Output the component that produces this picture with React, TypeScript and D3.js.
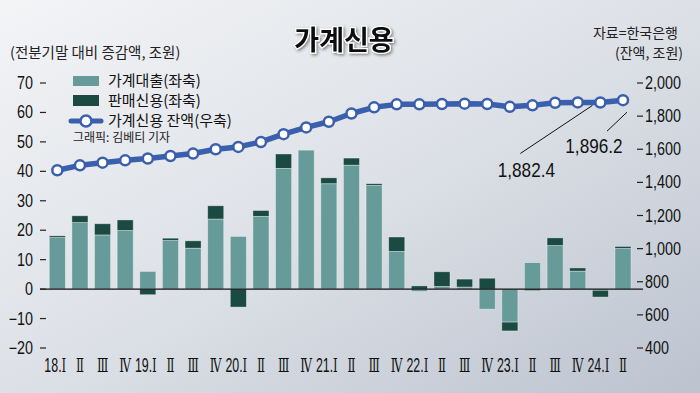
import React, { useEffect, useRef } from "react";
import * as d3 from "d3";

// quarters 2018.Q1 ~ 2024.Q2
const years = ["18.", "", "", "", "19.", "", "", "", "20.", "", "", "", "21.", "", "", "", "22.", "", "", "", "23.", "", "", "", "24.", ""];
const romans = ["Ⅰ", "Ⅱ", "Ⅲ", "Ⅳ", "Ⅰ", "Ⅱ", "Ⅲ", "Ⅳ", "Ⅰ", "Ⅱ", "Ⅲ", "Ⅳ", "Ⅰ", "Ⅱ", "Ⅲ", "Ⅳ", "Ⅰ", "Ⅱ", "Ⅲ", "Ⅳ", "Ⅰ", "Ⅱ", "Ⅲ", "Ⅳ", "Ⅰ", "Ⅱ"];

// 전분기말 대비 증감액 (조원)
const householdLoans = [17.5, 22.6, 18.4, 19.9, 6.0, 16.5, 13.9, 23.8, 17.9, 24.7, 41.0, 47.2, 35.8, 42.1, 35.2, 12.8, -0.8, 0.9, 0.7, -6.8, -11.2, 9.0, 14.8, 6.1, -0.4, 13.8];
const salesCredit = [0.6, 2.3, 3.8, 3.6, -1.9, 0.8, 2.5, 4.5, -6.1, 2.0, 4.9, 0.0, 2.0, 2.4, 0.6, 4.9, 1.1, 5.0, 2.7, 3.7, -3.0, -0.5, 2.6, 1.1, -2.3, 0.7];

// 가계신용 잔액 (조원)
const creditBalance = [1473, 1503, 1519, 1533, 1544, 1559, 1574, 1600, 1614, 1644, 1691, 1732, 1766, 1816, 1853, 1871, 1871, 1873, 1875, 1873, 1856, 1865, 1881, 1883, 1882.4, 1896.2];

const leftTicks = [70, 60, 50, 40, 30, 20, 10, 0, -10, -20];
const rightTicks = [2000, 1800, 1600, 1400, 1200, 1000, 800, 600, 400];

const seriesNames = ["가계대출(좌축)", "판매신용(좌축)", "가계신용 잔액(우축)"];

const LOAN_COLOR = "#669b99";
const SALES_COLOR = "#1b4a43";
const LINE_COLOR = "#3a5fad";
const NUM_FONT = "'Liberation Sans', Arial, sans-serif";
const KR_FONT = "'Noto Sans CJK KR', 'Noto Sans', sans-serif";
const NARROW = 0.82;

export default function App() {
  const ref = useRef<SVGSVGElement>(null);

  useEffect(() => {
    const width = 700;
    const height = 393;
    const svg = d3.select(ref.current);
    svg.selectAll("*").remove();

    const defs = svg.append("defs");
    const grad = defs.append("linearGradient")
      .attr("id", "bg")
      .attr("x1", "0").attr("y1", "0")
      .attr("x2", "1").attr("y2", "1");
    grad.append("stop").attr("offset", "0%").attr("stop-color", "#f3f4f6");
    grad.append("stop").attr("offset", "50%").attr("stop-color", "#dde1e7");
    grad.append("stop").attr("offset", "100%").attr("stop-color", "#bcc3cf");

    const shadow = defs.append("filter").attr("id", "titleShadow")
      .attr("x", "-20%").attr("y", "-40%").attr("width", "140%").attr("height", "180%");
    shadow.append("feDropShadow")
      .attr("dx", 1.5).attr("dy", 1.5).attr("stdDeviation", 1.5)
      .attr("flood-color", "#000").attr("flood-opacity", 0.45);

    svg.append("rect").attr("width", width).attr("height", height).attr("fill", "url(#bg)");

    // narrow number text: the picture uses a condensed face
    const narrowText = (g: any, px: number, py: number, size: number, anchor: string, scale = NARROW) =>
      g.append("text")
        .attr("transform", `translate(${px},${py}) scale(${scale},1)`)
        .attr("text-anchor", anchor)
        .attr("font-family", NUM_FONT)
        .attr("font-size", size)
        .attr("fill", "#111");

    const x = d3.scaleBand<number>()
      .domain(d3.range(romans.length))
      .range([46, 634.3])
      .paddingInner(0.29)
      .paddingOuter(0.145);
    const cx = (i: number) => x(i)! + x.bandwidth() / 2;

    const yLeft = d3.scaleLinear().domain([-20, 70]).range([348, 83]);
    const yRight = d3.scaleLinear().domain([400, 2000]).range([348, 83]);

    const rows = householdLoans.map((v, i) => ({ i, loan: v, sales: salesCredit[i] }));
    const stacked = d3.stack<any>()
      .keys(["loan", "sales"])
      .offset(d3.stackOffsetDiverging)(rows);

    const colors: Record<string, string> = { loan: LOAN_COLOR, sales: SALES_COLOR };

    // bars
    svg.append("g")
      .selectAll("g")
      .data(stacked)
      .join("g")
      .attr("fill", d => colors[d.key])
      .selectAll("rect")
      .data(d => d.filter(s => s[1] - s[0] !== 0))
      .join("rect")
      .attr("x", d => x(d.data.i)!)
      .attr("width", x.bandwidth())
      .attr("y", d => yLeft(Math.max(d[0], d[1])))
      .attr("height", d => Math.abs(yLeft(d[0]) - yLeft(d[1])))
      .attr("stroke", "rgba(255,255,255,0.45)")
      .attr("stroke-width", 0.8);

    // zero line
    svg.append("line")
      .attr("x1", 40).attr("x2", 643)
      .attr("y1", yLeft(0)).attr("y2", yLeft(0))
      .attr("stroke", "#111").attr("stroke-width", 1.4);

    // left axis
    const la = svg.append("g");
    leftTicks.forEach(t => {
      narrowText(la, 33, yLeft(t) + 6, 17.5, "end")
        .text(t < 0 ? "−" + Math.abs(t) : String(t));
      la.append("line")
        .attr("x1", 40).attr("x2", 46)
        .attr("y1", yLeft(t)).attr("y2", yLeft(t))
        .attr("stroke", "#222").attr("stroke-width", 1.2);
    });

    // right axis
    const ra = svg.append("g");
    rightTicks.forEach(t => {
      ra.append("line")
        .attr("x1", 637).attr("x2", 643)
        .attr("y1", yRight(t)).attr("y2", yRight(t))
        .attr("stroke", "#222").attr("stroke-width", 1.2);
      narrowText(ra, 645, yRight(t) + 6, 17.5, "start")
        .text(d3.format(",")(t));
    });

    // x labels
    const xa = svg.append("g");
    romans.forEach((r, i) => {
      const t = narrowText(xa, cx(i) - (years[i] ? 2 : 0), 372, 20, "middle", 0.62);
      if (years[i]) {
        t.append("tspan").text(years[i]);
      }
      t.append("tspan").attr("font-family", "'DejaVu Serif', 'Liberation Serif', serif")
        .attr("font-size", 19).text(r);
    });

    // balance line
    const line = d3.line<number>()
      .x((d, i) => cx(i))
      .y(d => yRight(d));

    svg.append("path")
      .datum(creditBalance)
      .attr("d", line)
      .attr("fill", "none")
      .attr("stroke", LINE_COLOR)
      .attr("stroke-width", 5.5)
      .attr("stroke-linejoin", "round");

    svg.append("g")
      .selectAll("circle")
      .data(creditBalance)
      .join("circle")
      .attr("cx", (d, i) => cx(i))
      .attr("cy", d => yRight(d))
      .attr("r", 5)
      .attr("fill", "#fff")
      .attr("stroke", LINE_COLOR)
      .attr("stroke-width", 2.5);

    // callouts for the last two points
    const n = creditBalance.length;
    const p1x = cx(n - 2);
    const p1y = yRight(creditBalance[n - 2]);
    svg.append("line")
      .attr("x1", p1x - 8).attr("y1", p1y + 3)
      .attr("x2", p1x - 80).attr("y2", p1y + 51)
      .attr("stroke", "#111").attr("stroke-width", 1);
    narrowText(svg, p1x - 74, p1y + 75, 20, "middle", 0.86)
      .text(d3.format(",.1f")(creditBalance[n - 2]));

    const p2x = cx(n - 1);
    const p2y = yRight(creditBalance[n - 1]);
    svg.append("line")
      .attr("x1", p2x + 4).attr("y1", p2y + 12)
      .attr("x2", p2x - 16).attr("y2", p2y + 31)
      .attr("stroke", "#111").attr("stroke-width", 1);
    narrowText(svg, p2x - 29, p2y + 53, 20, "middle", 0.86)
      .text(d3.format(",.1f")(creditBalance[n - 1]));

    // title
    svg.append("text")
      .attr("x", 344).attr("y", 50)
      .attr("text-anchor", "middle")
      .attr("font-family", KR_FONT).attr("font-weight", 700)
      .attr("font-size", 27)
      .attr("fill", "#111")
      .attr("stroke", "#fff").attr("stroke-width", 2.5)
      .attr("paint-order", "stroke")
      .attr("filter", "url(#titleShadow)")
      .text("가계신용");

    // unit / source texts
    svg.append("text")
      .attr("x", 10).attr("y", 58)
      .attr("font-family", KR_FONT).attr("font-size", 14.5).attr("fill", "#222")
      .text("(전분기말 대비 증감액, 조원)");
    svg.append("text")
      .attr("x", 678).attr("y", 38)
      .attr("text-anchor", "end")
      .attr("font-family", KR_FONT).attr("font-size", 14).attr("fill", "#222")
      .text("자료=한국은행");
    svg.append("text")
      .attr("x", 683).attr("y", 58)
      .attr("text-anchor", "end")
      .attr("font-family", KR_FONT).attr("font-size", 14).attr("fill", "#222")
      .text("(잔액, 조원)");

    // legend
    const lg = svg.append("g");
    lg.append("rect").attr("x", 73).attr("y", 76).attr("width", 26).attr("height", 10).attr("fill", LOAN_COLOR);
    lg.append("rect").attr("x", 73).attr("y", 95).attr("width", 26).attr("height", 11).attr("fill", SALES_COLOR);
    lg.append("line").attr("x1", 71).attr("x2", 101).attr("y1", 121).attr("y2", 121)
      .attr("stroke", LINE_COLOR).attr("stroke-width", 5).attr("stroke-linecap", "round");
    lg.append("circle").attr("cx", 86).attr("cy", 121).attr("r", 5.5)
      .attr("fill", "#fff").attr("stroke", LINE_COLOR).attr("stroke-width", 2.5);
    [86, 106, 126].forEach((yy, i) => {
      lg.append("text")
        .attr("x", 108).attr("y", yy)
        .attr("font-family", KR_FONT).attr("font-size", 15).attr("fill", "#111")
        .text(seriesNames[i]);
    });
    lg.append("text")
      .attr("x", 73).attr("y", 142)
      .attr("font-family", KR_FONT).attr("font-size", 12).attr("fill", "#222")
      .text("그래픽: 김베티 기자");
  }, []);

  return (
    <svg ref={ref} width={700} height={393}
      style={{ position: "absolute", left: 0, top: 0, display: "block" }} />
  );
}
